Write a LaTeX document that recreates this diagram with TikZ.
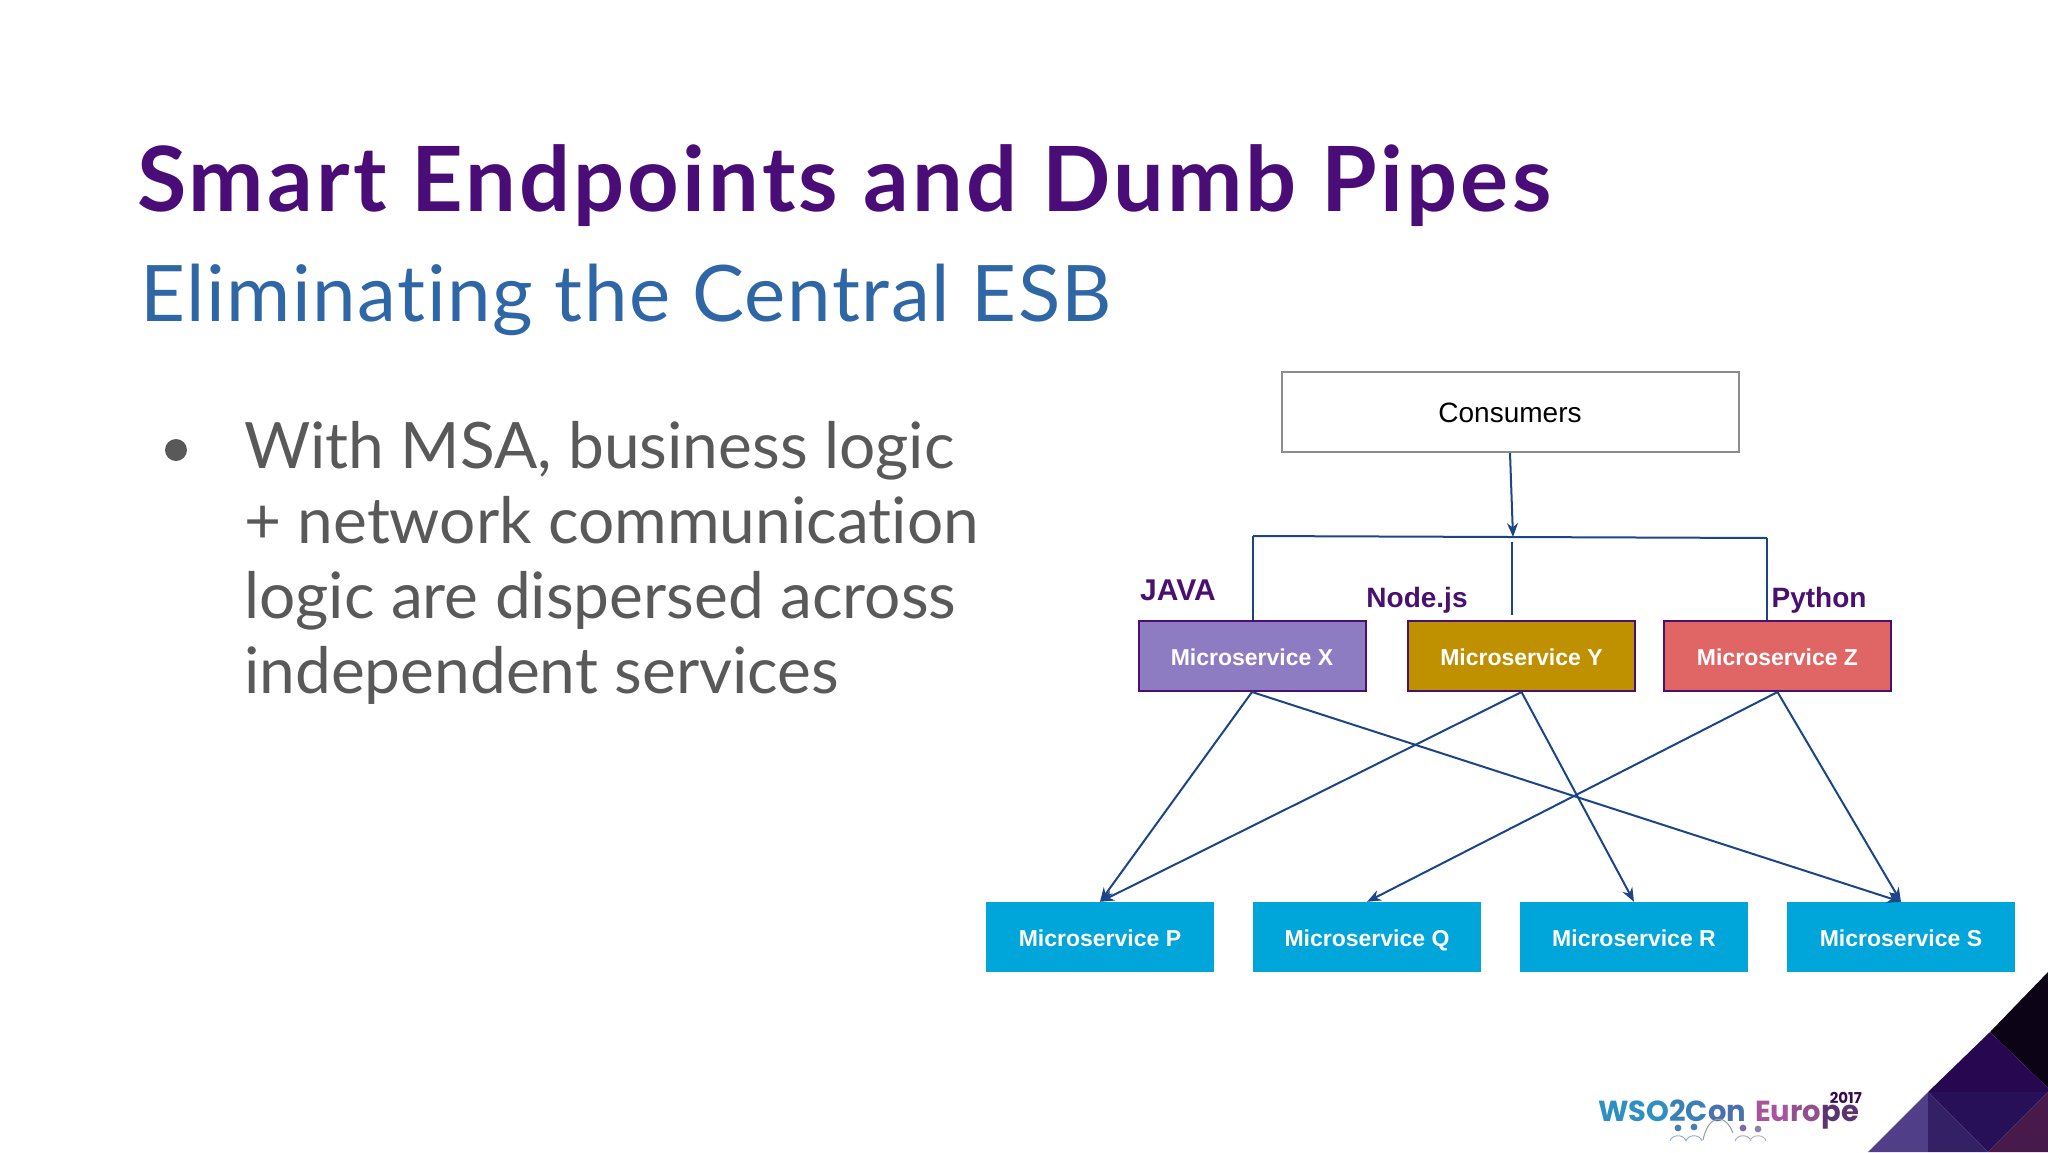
\documentclass[tikz,border=0pt]{standalone}
\usepackage{fontspec}
\setmainfont{Liberation Sans}
\newfontfamily\titlefont{Lato}[LetterSpace=3.5,Ligatures=NoCommon]
\newfontfamily\subfont{Lato}[LetterSpace=2,Ligatures=NoCommon]
\newfontfamily\bodyfont{Lato}[Ligatures=NoCommon]
\newfontfamily\logofont{Poppins}
\usetikzlibrary{arrows.meta}
\definecolor{titlepurple}{HTML}{4A0D78}
\definecolor{subblue}{HTML}{2F66A6}
\definecolor{bodygray}{HTML}{595959}
\definecolor{linkblue}{HTML}{1C4587}
\definecolor{langpurple}{HTML}{4A1070}
\definecolor{lowerblue}{HTML}{00A5D9}
\definecolor{boxx}{HTML}{8E7CC3}
\definecolor{boxy}{HTML}{BF9000}
\definecolor{boxz}{HTML}{E06666}
\tikzstyle{consumer} = [rectangle, minimum width=457pt, minimum height=80pt, text centered, draw=black!45, line width=2pt, fill=white, text height=21pt, text depth=1pt, font=\fontsize{28}{32}\selectfont]
\tikzstyle{upper} = [rectangle, minimum width=227pt, minimum height=70pt, text centered, draw=langpurple, line width=2pt, text=white, text height=20pt, text depth=2pt, font=\bfseries\fontsize{23}{27}\selectfont]
\tikzstyle{lower} = [rectangle, minimum width=228pt, minimum height=70pt, text centered, fill=lowerblue, text=white, text height=20pt, text depth=2pt, font=\bfseries\fontsize{23}{27}\selectfont]
\tikzstyle{lang} = [text=langpurple, font=\bfseries\fontsize{28}{32}\selectfont, inner sep=0pt]
\tikzstyle{arrow} = [line width=2pt,-{Stealth[length=14pt,width=11pt]},draw=linkblue]
\tikzstyle{plain} = [line width=2pt,draw=linkblue]

\begin{document}
\begin{tikzpicture}[x=1pt,y=-1pt,node distance=267pt]
\useasboundingbox (0,0) rectangle (2048,1152);

% corner
\fill[fill={rgb,255:red,12;green,3;blue,22}] (2048,972) -- (1990,1032) -- (2048,1088) -- cycle;
\fill[fill={rgb,255:red,38;green,7;blue,80}] (1990,1032) -- (2048,1088) -- (2048,1092) -- (1928,1092) -- cycle;
\fill[fill={rgb,255:red,40;green,16;blue,88}] (1928,1092) -- (2048,1092) -- (1988,1152) -- cycle;
\fill[fill={rgb,255:red,80;green,62;blue,136}] (1868,1152) -- (1928,1092) -- (1928,1152) -- cycle;
\fill[fill={rgb,255:red,52;green,32;blue,100}] (1928,1092) -- (1928,1152) -- (1988,1152) -- cycle;
\fill[fill={rgb,255:red,72;green,26;blue,76}] (2048,1092) -- (1988,1152) -- (2048,1152) -- cycle;

% text
\node (title) [anchor=base west, inner sep=0pt, text=titlepurple, font=\titlefont\bfseries\fontsize{90}{100}\selectfont] at (137,211) {Smart Endpoints and Dumb Pipes};
\node (subtitle) [anchor=base west, inner sep=0pt, text=subblue, font=\subfont\fontsize{78}{90}\selectfont] at (140,321) {Eliminating the Central ESB};
\fill[bodygray] (176,450) circle (11);
\node (body) [anchor=north west, inner sep=0pt, align=left, text=bodygray, font=\bodyfont\fontsize{64}{75}\selectfont] at (244,421.5) {With MSA, business logic\\+ network communication\\logic are dispersed across\\independent services};

% upper boxes
\node (consumers) [consumer] at (1510,412) {Consumers};
\node (micx) [upper, fill=boxx] at (1252,656) {Microservice X};
\node (micy) [upper, fill=boxy] at (1521.5,656) {Microservice Y};
\node (micz) [upper, fill=boxz] at (1777.5,656) {Microservice Z};

% lower boxes
\node (micp) [lower] at (1100,937) {Microservice P};
\node (micq) [lower, right of=micp] {Microservice Q};
\node (micr) [lower, right of=micq] {Microservice R};
\node (mics) [lower, right of=micr] {Microservice S};

\node (java) [lang, font=\bfseries\fontsize{30}{32}\selectfont] at (1178,590) {JAVA};
\node (nodejs) [lang] at (1417,600) {Node.js};
\node (python) [lang] at (1819,600) {Python};

\coordinate (busl) at (1253,536);
\coordinate (busm) at (1513,537);
\coordinate (busr) at (1767,538);
\coordinate (dropm) at (1512,542);
\coordinate (dropy) at (1512,615);

\draw [arrow] (consumers.south) -- (busm);
\draw [plain] (busl) -- (busr);
\draw [plain] (busl) -- (micx.north -| busl);
\draw [plain] (dropm) -- (dropy);
\draw [plain] (busr) -- (micz.north -| busr);

\draw [arrow] (micx.south) -- (micp.north);
\draw [arrow] (micx.south) -- (mics.north);
\draw [arrow] (micy.south) -- (micp.north);
\draw [arrow] (micy.south) -- (micr.north);
\draw [arrow] (micz.south) -- (micq.north);
\draw [arrow] (micz.south) -- (mics.north);

% logo
\node (logoa) [anchor=base west, inner sep=0pt, font=\logofont\bfseries\fontsize{29}{30}\selectfont] at (1598,1121) {\textcolor[HTML]{2F8FC0}{WSO}\textcolor[HTML]{3A80B8}{2C}\textcolor[HTML]{4A70B0}{on}};
\node (logob) [anchor=base west, inner sep=0pt, font=\logofont\bfseries\fontsize{29}{30}\selectfont] at (1755,1121) {\textcolor[HTML]{A8559F}{Eu}\textcolor[HTML]{93508F}{ro}\textcolor[HTML]{5B3570}{pe}};
\node (logoc) [anchor=base east, inner sep=0pt, text=langpurple!70!black, font=\logofont\bfseries\fontsize{15}{17}\selectfont] at (1862,1103) {2017};
\foreach \hx/\hy/\hc in {1678/1128/4A7DB0, 1694/1127/4A7DB0, 1743/1128/7A6AA8, 1758/1129/8A80A8} {
  \definecolor{headcol}{HTML}{\hc}
  \fill[headcol] (\hx,\hy) circle (3.4);
  \draw[headcol!60, line width=1pt] (\hx-8,1141) .. controls (\hx-6,1134) and (\hx+6,1134) .. (\hx+8,1141);
}
\draw[black!40, line width=1pt] (1703,1140) .. controls (1708,1115) and (1725,1112) .. (1733,1133);
\end{tikzpicture}
\end{document}
